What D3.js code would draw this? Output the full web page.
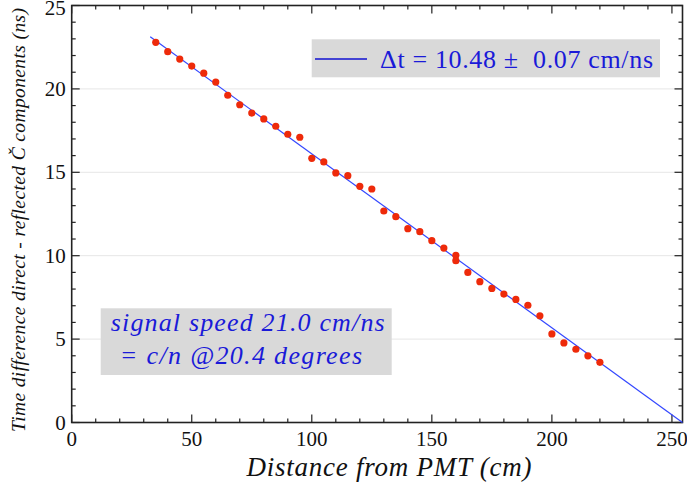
<!DOCTYPE html>
<html>
<head>
<meta charset="utf-8">
<script src="https://cdn.jsdelivr.net/npm/d3@7"></script>
<style>
  html, body { margin: 0; padding: 0; background: #fff; }
  svg { display: block; }
</style>
</head>
<body>
<svg id="chart" width="687" height="490"></svg>
<script>
// ---- data ----
const distance = [35, 40, 45, 50, 55, 60, 65, 70, 75, 80, 85, 90, 95, 100, 105, 110, 115, 120, 125,
                  130, 135, 140, 145, 150, 155, 160, 160, 165, 170, 175, 180, 185, 190, 195, 200, 205, 210, 215, 220];
const timeDiff = [22.79, 22.23, 21.79, 21.37, 20.94, 20.41, 19.62, 19.05, 18.55, 18.20, 17.76, 17.28, 17.10, 15.84, 15.62, 14.96, 14.80, 14.16, 14.00,
                  12.68, 12.34, 11.62, 11.44, 10.90, 10.46, 10.02, 9.70, 9.00, 8.44, 8.04, 7.70, 7.38, 7.03, 6.40, 5.31, 4.77, 4.39, 4.00, 3.61];
const fitX = [32.7, 254.4];
const fitY = [23.13, 0];
const xTicks = [0, 50, 100, 150, 200, 250];
const yTicks = [0, 5, 10, 15, 20, 25];
const legendText = "\u0394t = 10.48 \u00b1  0.07 cm/ns";
const noteLines = ["signal speed 21.0 cm/ns", " = c/n @20.4 degrees"];
const xLabel = "Distance from PMT (cm)";
const yLabel = "Time difference direct - reflected \u010C components (ns)";

// ---- layout ----
const W = 687, H = 490;
const m = {left: 71.7, right: 4.5, top: 5.5, bottom: 67.5};
const pw = W - m.left - m.right, ph = H - m.top - m.bottom;
const SERIF = '"Liberation Serif"';

const x = d3.scaleLinear().domain([0, 254.4]).range([0, pw]);
const y = d3.scaleLinear().domain([0, 25]).range([ph, 0]);

const svg = d3.select("#chart");
const g = svg.append("g").attr("transform", `translate(${m.left},${m.top})`);

// grid
g.append("g").selectAll("line").data(yTicks.filter(t => t > 0 && t < 25)).join("line")
  .attr("x1", 0).attr("x2", pw)
  .attr("y1", d => y(d)).attr("y2", d => y(d))
  .attr("stroke", "#e6e6e6").attr("stroke-width", 1);

// ticks (inward, all four sides)
const xMinor = d3.range(0, 255, 10).filter(v => v % 50 !== 0);
const yMinor = d3.range(0, 25, 1).filter(v => v % 5 !== 0);
const tickCol = "#222";
function xTickLines(vals, len) {
  g.append("g").selectAll("line").data(vals).join("line")
    .attr("x1", d => x(d)).attr("x2", d => x(d)).attr("y1", ph).attr("y2", ph - len)
    .attr("stroke", tickCol).attr("stroke-width", 1.2);
  g.append("g").selectAll("line").data(vals).join("line")
    .attr("x1", d => x(d)).attr("x2", d => x(d)).attr("y1", 0).attr("y2", len)
    .attr("stroke", tickCol).attr("stroke-width", 1.2);
}
function yTickLines(vals, len) {
  g.append("g").selectAll("line").data(vals).join("line")
    .attr("y1", d => y(d)).attr("y2", d => y(d)).attr("x1", 0).attr("x2", len)
    .attr("stroke", tickCol).attr("stroke-width", 1.2);
  g.append("g").selectAll("line").data(vals).join("line")
    .attr("y1", d => y(d)).attr("y2", d => y(d)).attr("x1", pw).attr("x2", pw - len)
    .attr("stroke", tickCol).attr("stroke-width", 1.2);
}
xTickLines(xTicks, 8);
xTickLines(xMinor, 4);
yTickLines(yTicks, 8);
yTickLines(yMinor, 4);

// frame
g.append("rect").attr("x", 0).attr("y", 0).attr("width", pw).attr("height", ph)
  .attr("fill", "none").attr("stroke", "#222").attr("stroke-width", 1.6);

// tick labels
g.append("g").selectAll("text").data(xTicks).join("text")
  .style("font-family", SERIF)
  .attr("x", d => x(d)).attr("y", ph + 23)
  .attr("text-anchor", "middle").attr("font-size", 21)
  .attr("fill", "#111").text(d => d);
g.append("g").selectAll("text").data(yTicks).join("text")
  .style("font-family", SERIF)
  .attr("x", -6).attr("y", d => Math.max(y(d) + 7, 9.5))
  .attr("text-anchor", "end").attr("font-size", 21)
  .attr("fill", "#111").text(d => d);

// axis titles
svg.append("text").style("font-family", SERIF).attr("x", 389).attr("y", 476)
  .attr("text-anchor", "middle").attr("font-style", "italic")
  .attr("font-size", 27).attr("textLength", 285).attr("lengthAdjust", "spacing")
  .attr("fill", "#111").text(xLabel);
svg.append("text").style("font-family", SERIF).attr("transform", "translate(25,220) rotate(-90)")
  .attr("text-anchor", "middle").attr("font-style", "italic")
  .attr("font-size", 19.5).attr("textLength", 424).attr("lengthAdjust", "spacing")
  .attr("fill", "#111").text(yLabel);

// fit line
const line = d3.line().x(d => x(d[0])).y(d => y(d[1]));
g.append("path").datum(fitX.map((v, i) => [v, fitY[i]]))
  .attr("d", line).attr("fill", "none").attr("stroke", "#3347ff").attr("stroke-width", 1.2);

// points
g.append("g").selectAll("circle").data(distance.map((d, i) => [d, timeDiff[i]])).join("circle")
  .attr("cx", d => x(d[0])).attr("cy", d => y(d[1])).attr("r", 3.6)
  .attr("fill", "#ee2a0a");

// legend box
const lg = svg.append("g");
lg.append("rect").attr("x", 311.7).attr("y", 39.3).attr("width", 348.3).attr("height", 38)
  .attr("fill", "#d9d9d9");
lg.append("line").attr("x1", 315).attr("x2", 367).attr("y1", 59).attr("y2", 59)
  .attr("stroke", "#1010d0").attr("stroke-width", 1.5);
lg.append("text").style("font-family", SERIF).attr("x", 380).attr("y", 67.5)
  .attr("font-size", 26).attr("textLength", 273).attr("lengthAdjust", "spacing")
  .attr("fill", "#1a1ad8")
  .style("white-space", "pre").text(legendText);

// note box
const nb = svg.append("g");
nb.append("rect").attr("x", 100.7).attr("y", 308.3).attr("width", 291).attr("height", 66.7)
  .attr("fill", "#d9d9d9");
nb.selectAll("text").data(noteLines).join("text")
  .style("font-family", SERIF)
  .attr("x", (d, i) => i === 0 ? 110.7 : 112)
  .attr("y", (d, i) => 331 + i * 32.5)
  .attr("font-style", "italic").attr("font-size", 26)
  .attr("textLength", (d, i) => i === 0 ? 274 : 250).attr("lengthAdjust", "spacing")
  .attr("fill", "#1a1ad8").style("white-space", "pre").text(d => d);
</script>
</body>
</html>
